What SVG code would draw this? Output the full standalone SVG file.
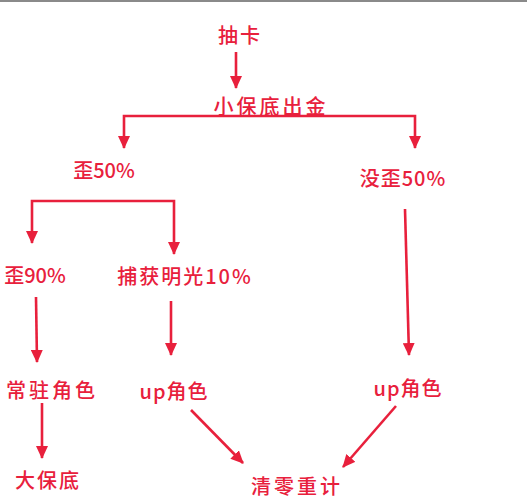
<svg xmlns="http://www.w3.org/2000/svg" width="527" height="500" viewBox="0 0 527 500">
<defs>
<marker id="ah" markerUnits="userSpaceOnUse" markerWidth="13" markerHeight="12" viewBox="0 0 13 12" refX="12" refY="6" orient="auto">
<path d="M0,0 L13,6 L0,12 z" fill="#e8203c"/>
</marker>
<style>
.t{font-family:"Noto Sans CJK SC","Noto Sans",sans-serif;font-size:20px;font-weight:500;fill:#e8203c;text-anchor:middle;letter-spacing:2px}
.c{stroke:#e8203c;stroke-width:2.6;fill:none}
.a{marker-end:url(#ah)}
</style>
</defs>
<rect x="0" y="0" width="527" height="500" fill="#ffffff"/>
<rect x="0" y="0" width="527" height="2" fill="#8a8a8a"/>
<g id="connectors">
<path class="c a" d="M236,52 L236,88"/>
<path class="c a" d="M270,116 L124,116 L124,148"/>
<path class="c a" d="M270,116 L415,116 L415,148"/>
<path class="c a" d="M100,201 L32,201 L32,243"/>
<path class="c a" d="M100,201 L174,201 L174,254"/>
<path class="c a" d="M405,209 L409,355"/>
<path class="c a" d="M36,297 L37,362"/>
<path class="c a" d="M171,301 L171,355"/>
<path class="c a" d="M42,403 L42,458"/>
<path class="c a" d="M191,410 L243,463"/>
<path class="c a" d="M396,406 L343,467"/>
</g>
<g id="n-chouka"><text class="t" x="240" y="43">抽卡</text></g>
<g id="n-xiaobaodi"><text class="t" x="271" y="114" style="letter-spacing:3px">小保底出金</text></g>
<g id="n-wai50"><text class="t" x="104" y="178" style="letter-spacing:0">歪50%</text></g>
<g id="n-meiwai50"><text class="t" x="403" y="186" style="letter-spacing:1px">没歪50%</text></g>
<g id="n-wai90"><text class="t" x="35" y="283" style="letter-spacing:0">歪90%</text></g>
<g id="n-buhuo"><text class="t" x="185" y="284">捕获明光10%</text></g>
<g id="n-changzhu"><text class="t" x="52" y="398" style="letter-spacing:3px">常驻角色</text></g>
<g id="n-up1"><text class="t" x="174" y="399" style="letter-spacing:1px">up角色</text></g>
<g id="n-up2"><text class="t" x="408" y="396" style="letter-spacing:1px">up角色</text></g>
<g id="n-dabaodi"><text class="t" x="48" y="488">大保底</text></g>
<g id="n-qingling"><text class="t" x="297" y="494" style="letter-spacing:3px">清零重计</text></g>
</svg>
